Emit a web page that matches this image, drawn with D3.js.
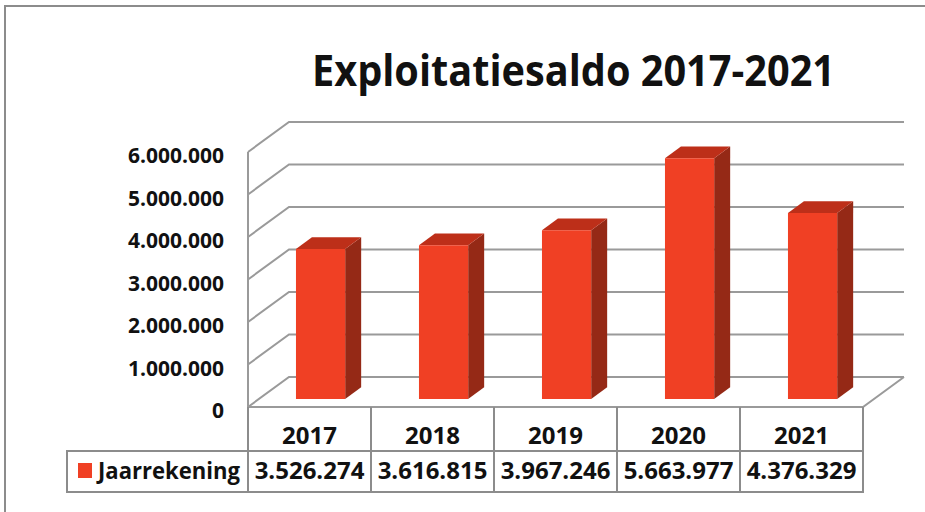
<!DOCTYPE html>
<html>
<head>
<meta charset="utf-8">
<script src="https://cdn.jsdelivr.net/npm/d3@7"></script>
<style>
  body { margin: 0; background: #fff; }
  text { font-family: "Open Sans", sans-serif; font-weight: 700; fill: #111; }
</style>
</head>
<body>
<svg id="chart" width="925" height="512"></svg>
<script>
// data
let years = ["2017", "2018", "2019", "2020", "2021"];
let saldo = [3526274, 3616815, 3967246, 5663977, 4376329];
let yTicks = [0, 1000000, 2000000, 3000000, 4000000, 5000000, 6000000];
let seriesName = "Jaarrekening";
let title = "Exploitatiesaldo 2017-2021";

let fmt = v => d3.format(",")(v).replace(/,/g, ".");

let gridColor = "#9a9a9a";
let faceColor = "#f04024";
let topColor = "#bd2f19";
let sideColor = "#952916";

// oblique 3d: back wall is front plane shifted by (depthX, depthY)
let depthX = 41, depthY = -30;

let x = d3.scaleBand().domain(years).range([248, 863]);
let y = d3.scaleLinear().domain([0, 6000000]).range([407, 152]);

function proj(px, py, t) {
  return [px + depthX * t, py + depthY * t];
}

let svg = d3.select("#chart");

// outer frame
svg.append("rect")
  .attr("x", 5).attr("y", 6)
  .attr("width", 940).attr("height", 540)
  .attr("fill", "none")
  .attr("stroke", "#8c8c8c")
  .attr("stroke-width", 2);

// title
svg.append("text")
  .attr("x", 312).attr("y", 86)
  .attr("textLength", 523)
  .attr("lengthAdjust", "spacingAndGlyphs")
  .style("font-size", "43px")
  .text(title);

let g = svg.append("g");

// gridlines: side wall + back wall
let x0 = x.range()[0], x1 = x.range()[1];
yTicks.forEach(function (v) {
  let a = proj(x0, y(v), 0), b = proj(x0, y(v), 1), c = proj(x1, y(v), 1);
  g.append("path")
    .attr("d", d3.line()([a, b, c]))
    .attr("fill", "none")
    .attr("stroke", gridColor)
    .attr("stroke-width", 2);
});

// left wall front edge
g.append("line")
  .attr("x1", x0).attr("y1", y(6000000))
  .attr("x2", x0).attr("y2", y(0))
  .attr("stroke", gridColor).attr("stroke-width", 2);

// floor front + right edges
{
  let a = proj(x0, y(0), 0), b = proj(x1, y(0), 0), c = proj(x1, y(0), 1);
  g.append("path")
    .attr("d", d3.line()([a, b, c]))
    .attr("fill", "none")
    .attr("stroke", gridColor)
    .attr("stroke-width", 2);
}

// bars
let tFront = 0.27, tBack = 0.66;
let barW = x.bandwidth() * 0.4;
let line = d3.line();

let bars = g.selectAll(".bar")
  .data(years.map((yr, i) => ({ year: yr, value: saldo[i] })))
  .enter()
  .append("g")
  .attr("class", "bar");

bars.each(function (d) {
  let sel = d3.select(this);
  let left = x(d.year) + (x.bandwidth() - barW) / 2;
  let right = left + barW;
  let top = y(d.value), bot = y(0);
  let fTL = proj(left, top, tFront), fTR = proj(right, top, tFront);
  let fBL = proj(left, bot, tFront), fBR = proj(right, bot, tFront);
  let bTL = proj(left, top, tBack), bTR = proj(right, top, tBack);
  let bBR = proj(right, bot, tBack);
  sel.append("path")
    .attr("d", line([fTR, bTR, bBR, fBR]) + "Z")
    .attr("fill", sideColor);
  sel.append("path")
    .attr("d", line([fTL, bTL, bTR, fTR]) + "Z")
    .attr("fill", topColor);
  sel.append("path")
    .attr("d", line([fTL, fTR, fBR, fBL]) + "Z")
    .attr("fill", faceColor);
});

// y-axis labels
svg.selectAll(".ylab")
  .data(yTicks)
  .enter()
  .append("text")
  .attr("class", "ylab")
  .attr("x", 224)
  .attr("y", v => y(v) + 4)
  .attr("dy", "0.35em")
  .attr("text-anchor", "end")
  .style("font-size", "21px")
  .text(fmt);

// data table
let rowTop = 407, rowMid = 451, rowBot = 492, tableLeft = 67;
let tbl = svg.append("g")
  .attr("fill", "none")
  .attr("stroke", "#8c8c8c")
  .attr("stroke-width", 2);

tbl.append("rect")
  .attr("x", tableLeft).attr("y", rowMid)
  .attr("width", x1 - tableLeft).attr("height", rowBot - rowMid);
tbl.append("line")
  .attr("x1", x1).attr("y1", rowTop).attr("x2", x1).attr("y2", rowMid);
years.forEach(function (yr) {
  tbl.append("line")
    .attr("x1", x(yr)).attr("y1", rowTop)
    .attr("x2", x(yr)).attr("y2", rowBot);
});

svg.selectAll(".yearlab")
  .data(years)
  .enter()
  .append("text")
  .attr("class", "yearlab")
  .attr("x", d => x(d) + x.bandwidth() / 2)
  .attr("y", 444)
  .attr("text-anchor", "middle")
  .style("font-size", "24px")
  .text(d => d);

svg.selectAll(".vallab")
  .data(saldo)
  .enter()
  .append("text")
  .attr("class", "vallab")
  .attr("x", (d, i) => x(years[i]) + x.bandwidth() / 2)
  .attr("y", 479)
  .attr("text-anchor", "middle")
  .style("font-size", "24px")
  .text(fmt);

// legend key
svg.append("rect")
  .attr("x", 78).attr("y", 463)
  .attr("width", 14).attr("height", 15)
  .attr("fill", faceColor);
svg.append("text")
  .attr("x", 98).attr("y", 479)
  .attr("textLength", 142)
  .attr("lengthAdjust", "spacingAndGlyphs")
  .style("font-size", "24px")
  .text(seriesName);
</script>
</body>
</html>
